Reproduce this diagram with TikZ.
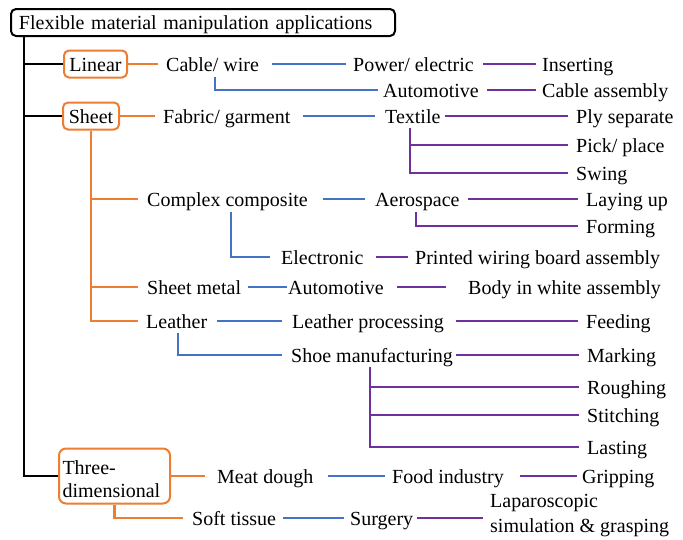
\documentclass[tikz,border=0pt]{standalone}
\usepackage{fontspec}
\setmainfont{Liberation Serif}
\definecolor{cOrange}{HTML}{ED7D31}
\definecolor{cBlue}{HTML}{4472C4}
\definecolor{cPurple}{HTML}{7030A0}
\newcommand\figfont{\fontsize{20pt}{23pt}\selectfont}
\newcommand\lapfont{\fontsize{20pt}{25pt}\selectfont}

\begin{document}
\begin{tikzpicture}[x=1pt,y=-1pt,
  lbl/.style={anchor=west, inner sep=0pt, text height=15pt, text depth=1pt, font=\figfont},
  catbox/.style={draw=cOrange, line width=2pt, rounded corners=5pt, inner sep=0pt,
    text height=15pt, text depth=1pt, minimum height=27pt, font=\figfont},
  blk/.style={line width=2.9pt, black},
  org/.style={line width=2.9pt, cOrange},
  blu/.style={line width=2.9pt, cBlue},
  pur/.style={line width=2.9pt, cPurple},
]
\useasboundingbox (0,0) rectangle (683,539);

% root and categories
\node[draw=black, line width=2pt, rounded corners=5pt, anchor=north west,
      text width=368pt, inner xsep=8pt, inner ysep=0pt, minimum height=27pt,
      align=left, text height=15pt, text depth=1pt, font=\figfont]
      (root) at (10,8) {Flexible material manipulation applications};
\node[catbox, minimum width=63pt] (lin) at (95.5,64) {Linear};
\node[catbox, minimum width=56pt] (sheet) at (91,116) {Sheet};
\node[draw=cOrange, line width=2pt, rounded corners=7pt, text width=104pt,
      inner xsep=3.5pt, inner ysep=0pt, minimum height=55pt, align=left, font=\figfont]
      (three) at (114.5,476) {\rule{0pt}{19.3pt}Three-\\dimensional};

% materials
\node[lbl] (cable)   at (166,64)  {Cable/ wire};
\node[lbl] (fabric)  at (163,116) {Fabric/ garment};
\node[lbl] (complex) at (147,199) {Complex composite};
\node[lbl] (smetal)  at (147,287) {Sheet metal};
\node[lbl] (leather) at (146,321) {Leather};
\node[lbl] (meat)    at (217,476) {Meat dough};
\node[lbl] (soft)    at (192,518) {Soft tissue};

% industries
\node[lbl] (power)      at (353,64)  {Power/ electric};
\node[lbl] (auto1)      at (383,90)  {Automotive};
\node[lbl] (textile)    at (385,116) {Textile};
\node[lbl] (aero)       at (375,199) {Aerospace};
\node[lbl] (electronic) at (281,257) {Electronic};
\node[lbl] (auto2)      at (288,287) {Automotive};
\node[lbl] (lproc)      at (292,321) {Leather processing};
\node[lbl] (shoe)       at (291,355) {Shoe manufacturing};
\node[lbl] (food)       at (392,476) {Food industry};
\node[lbl] (surgery)    at (350,518) {Surgery};

% tasks
\node[lbl] (insert)    at (542,64)  {Inserting};
\node[lbl] (cabasm)    at (542,90)  {Cable assembly};
\node[lbl] (ply)       at (576,116) {Ply separate};
\node[lbl] (pick)      at (576,145) {Pick/ place};
\node[lbl] (swing)     at (576,173) {Swing};
\node[lbl] (layup)     at (586,199) {Laying up};
\node[lbl] (forming)   at (586,226) {Forming};
\node[lbl] (pwb)       at (415,257) {Printed wiring board assembly};
\node[lbl] (body)      at (468,287) {Body in white assembly};
\node[lbl] (feeding)   at (586,321) {Feeding};
\node[lbl] (marking)   at (587,355) {Marking};
\node[lbl] (roughing)  at (587,387) {Roughing};
\node[lbl] (stitching) at (587,415) {Stitching};
\node[lbl] (lasting)   at (587,447) {Lasting};
\node[lbl] (grip)      at (582,476) {Gripping};
\node[anchor=north west, inner sep=0pt, align=left, font=\lapfont]
     (lap) at (490,494.5) {Laparoscopic\\simulation \& grasping};

% trunk
\coordinate (trunk) at ([xshift=14pt]root.south west);
\draw[blk] (trunk) |- (three.west);
\draw[blk] (lin.west) -- (lin.west -| trunk);
\draw[blk] (sheet.west) -- (sheet.west -| trunk);

% category -> material
\draw[org] (lin.east) -- ([xshift=-8pt]cable.west);
\draw[org] (sheet.east) -- ([xshift=-8pt]fabric.west);
\draw[org] (sheet.south) |- ([xshift=-8pt]leather.west);
\draw[org] ([xshift=-9pt]complex.west) -- (complex.west -| sheet.south);
\draw[org] ([xshift=-9pt]smetal.west) -- (smetal.west -| sheet.south);
\draw[org] (three.east) -- ([xshift=-12pt]meat.west);
\draw[org] (three.south) |- ([xshift=-9pt]soft.west);

% material -> industry
\draw[blu] ([xshift=13pt]cable.east) -- ([xshift=-7pt]power.west);
\draw[blu] ([shift={(49,5)}]cable.south west) |- ([xshift=-5pt]auto1.west);
\draw[blu] ([xshift=12pt]fabric.east) -- ([xshift=-10pt]textile.west);
\draw[blu] ([xshift=15pt]complex.east) -- ([xshift=-10pt]aero.west);
\draw[blu] ([shift={(84,5)}]complex.south west) |- ([xshift=-11pt]electronic.west);
\draw[blu] ([xshift=7pt]smetal.east) -- ([xshift=-1pt]auto2.west);
\draw[blu] ([xshift=10pt]leather.east) -- ([xshift=-10pt]lproc.west);
\draw[blu] ([shift={(32,4)}]leather.south west) |- ([xshift=-9pt]shoe.west);
\draw[blu] ([xshift=15pt]meat.east) -- ([xshift=-7pt]food.west);
\draw[blu] ([xshift=7pt]soft.east) -- ([xshift=-6pt]surgery.west);

% industry -> task
\draw[pur] ([xshift=9pt]power.east) -- ([xshift=-6pt]insert.west);
\draw[pur] ([xshift=8pt]auto1.east) -- ([xshift=-6pt]cabasm.west);
\draw[pur] ([xshift=4pt]textile.east) -- ([xshift=-8pt]ply.west);
\coordinate (tstem) at ([shift={(25,4)}]textile.south west);
\draw[pur] (tstem) |- ([xshift=-8pt]swing.west);
\draw[pur] (pick.west -| tstem) -- ([xshift=-8pt]pick.west);
\draw[pur] ([xshift=8pt]aero.east) -- ([xshift=-8pt]layup.west);
\draw[pur] ([shift={(41,5)}]aero.south west) |- ([xshift=-8pt]forming.west);
\draw[pur] ([xshift=12pt]electronic.east) -- ([xshift=-7pt]pwb.west);
\draw[pur] ([xshift=13pt]auto2.east) -- ([xshift=-22pt]body.west);
\draw[pur] ([xshift=12pt]lproc.east) -- ([xshift=-8pt]feeding.west);
\draw[pur] ([xshift=3pt]shoe.east) -- ([xshift=-8pt]marking.west);
\coordinate (sstem) at ([shift={(79,4)}]shoe.south west);
\draw[pur] (sstem) |- ([xshift=-8pt]lasting.west);
\draw[pur] (roughing.west -| sstem) -- ([xshift=-8pt]roughing.west);
\draw[pur] (stitching.west -| sstem) -- ([xshift=-8pt]stitching.west);
\draw[pur] ([xshift=16pt]food.east) -- ([xshift=-5pt]grip.west);
\draw[pur] ([xshift=4pt]surgery.east) -- ([xshift=-7pt]surgery.east -| lap.west);
\end{tikzpicture}
\end{document}
